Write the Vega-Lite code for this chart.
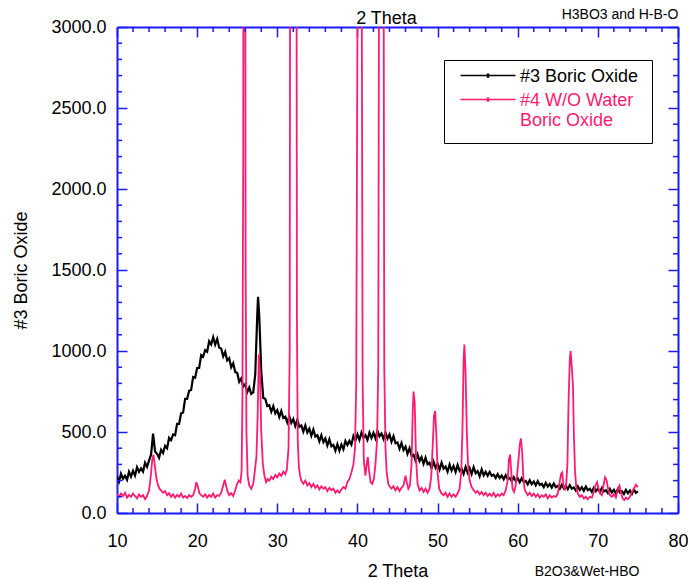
{
  "$schema": "https://vega.github.io/schema/vega-lite/v6.json",
  "width": 561,
  "height": 486,
  "autosize": {"type": "none"},
  "padding": {"left": 117, "top": 27, "right": 10, "bottom": 66},
  "background": "white",
  "config": {"font": "Liberation Sans", "view": {"stroke": null}, "axis": {"grid": false}},
  "datasets": {
    "black": [
      {"x":10,"y":225},{"x":10.25,"y":194},{"x":10.5,"y":243},{"x":10.75,"y":211},{"x":11,"y":230},{"x":11.25,"y":205},{"x":11.5,"y":255},{"x":11.75,"y":225},
      {"x":12,"y":260},{"x":12.25,"y":231},{"x":12.5,"y":283},{"x":12.75,"y":254},{"x":13,"y":275},{"x":13.25,"y":255},{"x":13.5,"y":310},{"x":13.75,"y":285},
      {"x":14,"y":325},{"x":14.25,"y":360},{"x":14.5,"y":490},{"x":14.75,"y":380},{"x":15,"y":365},{"x":15.25,"y":340},{"x":15.5,"y":390},{"x":15.75,"y":370},
      {"x":16,"y":415},{"x":16.25,"y":400},{"x":16.5,"y":465},{"x":16.75,"y":450},{"x":17,"y":485},{"x":17.25,"y":480},{"x":17.5,"y":550},{"x":17.75,"y":550},
      {"x":18,"y":615},{"x":18.25,"y":620},{"x":18.5,"y":705},{"x":18.75,"y":705},{"x":19,"y":755},{"x":19.25,"y":760},{"x":19.5,"y":840},{"x":19.75,"y":835},
      {"x":20,"y":895},{"x":20.25,"y":895},{"x":20.5,"y":975},{"x":20.75,"y":965},{"x":21,"y":1005},{"x":21.25,"y":995},{"x":21.5,"y":1060},{"x":21.75,"y":1040},
      {"x":22,"y":1085},{"x":22.25,"y":1040},{"x":22.5,"y":1075},{"x":22.75,"y":1020},{"x":23,"y":1015},{"x":23.25,"y":967},{"x":23.5,"y":995},{"x":23.75,"y":942},
      {"x":24,"y":955},{"x":24.25,"y":900},{"x":24.5,"y":925},{"x":24.75,"y":870},{"x":25,"y":865},{"x":25.25,"y":810},{"x":25.5,"y":830},{"x":25.75,"y":780},
      {"x":26,"y":795},{"x":26.25,"y":745},{"x":26.5,"y":775},{"x":26.75,"y":735},{"x":27,"y":745},{"x":27.25,"y":855},{"x":27.5,"y":1220},{"x":27.6,"y":1335},{"x":27.75,"y":1215},
      {"x":28,"y":875},{"x":28.25,"y":710},{"x":28.5,"y":705},{"x":28.75,"y":660},{"x":29,"y":665},{"x":29.25,"y":625},{"x":29.5,"y":660},{"x":29.75,"y":615},
      {"x":30,"y":635},{"x":30.25,"y":592},{"x":30.5,"y":630},{"x":30.75,"y":587},{"x":31,"y":595},{"x":31.25,"y":559},{"x":31.5,"y":597},{"x":31.75,"y":556},
      {"x":32,"y":580},{"x":32.25,"y":537},{"x":32.5,"y":575},{"x":32.75,"y":532},{"x":33,"y":540},{"x":33.25,"y":502},{"x":33.5,"y":540},{"x":33.75,"y":497},
      {"x":34,"y":520},{"x":34.25,"y":477},{"x":34.5,"y":515},{"x":34.75,"y":472},{"x":35,"y":480},{"x":35.25,"y":442},{"x":35.5,"y":480},{"x":35.75,"y":437},
      {"x":36,"y":460},{"x":36.25,"y":417},{"x":36.5,"y":455},{"x":36.75,"y":412},{"x":37,"y":420},{"x":37.25,"y":385},{"x":37.5,"y":425},{"x":37.75,"y":385},
      {"x":38,"y":422},{"x":38.25,"y":393},{"x":38.5,"y":445},{"x":38.75,"y":420},{"x":39,"y":445},{"x":39.25,"y":422},{"x":39.5,"y":475},{"x":39.75,"y":447},
      {"x":40,"y":485},{"x":40.25,"y":451},{"x":40.5,"y":497},{"x":40.75,"y":464},{"x":41,"y":480},{"x":41.25,"y":451},{"x":41.5,"y":497},{"x":41.75,"y":464},
      {"x":42,"y":495},{"x":42.25,"y":461},{"x":42.5,"y":507},{"x":42.75,"y":474},{"x":43,"y":490},{"x":43.25,"y":456},{"x":43.5,"y":497},{"x":43.75,"y":459},
      {"x":44,"y":485},{"x":44.25,"y":440},{"x":44.5,"y":475},{"x":44.75,"y":430},{"x":45,"y":435},{"x":45.25,"y":396},{"x":45.5,"y":432},{"x":45.75,"y":389},
      {"x":46,"y":410},{"x":46.25,"y":365},{"x":46.5,"y":400},{"x":46.75,"y":355},{"x":47,"y":360},{"x":47.25,"y":324},{"x":47.5,"y":362},{"x":47.75,"y":321},
      {"x":48,"y":345},{"x":48.25,"y":304},{"x":48.5,"y":342},{"x":48.75,"y":301},{"x":49,"y":310},{"x":49.25,"y":276},{"x":49.5,"y":317},{"x":49.75,"y":279},
      {"x":50,"y":305},{"x":50.25,"y":268},{"x":50.5,"y":311},{"x":50.75,"y":274},{"x":51,"y":287},{"x":51.25,"y":255},{"x":51.5,"y":299},{"x":51.75,"y":262},
      {"x":52,"y":290},{"x":52.25,"y":253},{"x":52.5,"y":297},{"x":52.75,"y":260},{"x":53,"y":273},{"x":53.25,"y":242},{"x":53.5,"y":285},{"x":53.75,"y":249},
      {"x":54,"y":277},{"x":54.25,"y":240},{"x":54.5,"y":283},{"x":54.75,"y":246},{"x":55,"y":258},{"x":55.25,"y":226},{"x":55.5,"y":269},{"x":55.75,"y":232},
      {"x":56,"y":254},{"x":56.25,"y":230},{"x":56.5,"y":254},{"x":56.75,"y":230},{"x":57,"y":236},{"x":57.25,"y":216},{"x":57.5,"y":240},{"x":57.75,"y":216},
      {"x":58,"y":231},{"x":58.25,"y":208},{"x":58.5,"y":233},{"x":58.75,"y":210},{"x":59,"y":216},{"x":59.25,"y":196},{"x":59.5,"y":221},{"x":59.75,"y":198},
      {"x":60,"y":214},{"x":60.25,"y":190},{"x":60.5,"y":215},{"x":60.75,"y":191},{"x":61,"y":198},{"x":61.25,"y":177},{"x":61.5,"y":202},{"x":61.75,"y":178},
      {"x":62,"y":194},{"x":62.25,"y":171},{"x":62.5,"y":196},{"x":62.75,"y":173},{"x":63,"y":180},{"x":63.25,"y":160},{"x":63.5,"y":186},{"x":63.75,"y":163},
      {"x":64,"y":179},{"x":64.25,"y":157},{"x":64.5,"y":182},{"x":64.75,"y":160},{"x":65,"y":168},{"x":65.25,"y":149},{"x":65.5,"y":174},{"x":65.75,"y":152},
      {"x":66,"y":169},{"x":66.25,"y":147},{"x":66.5,"y":172},{"x":66.75,"y":150},{"x":67,"y":158},{"x":67.25,"y":139},{"x":67.5,"y":164},{"x":67.75,"y":142},
      {"x":68,"y":159},{"x":68.25,"y":137},{"x":68.5,"y":163},{"x":68.75,"y":141},{"x":69,"y":149},{"x":69.25,"y":130},{"x":69.5,"y":156},{"x":69.75,"y":134},
      {"x":70,"y":151},{"x":70.25,"y":129},{"x":70.5,"y":155},{"x":70.75,"y":133},{"x":71,"y":141},{"x":71.25,"y":123},{"x":71.5,"y":149},{"x":71.75,"y":127},
      {"x":72,"y":144},{"x":72.25,"y":122},{"x":72.5,"y":149},{"x":72.75,"y":127},{"x":73,"y":135},{"x":73.25,"y":117},{"x":73.5,"y":143},{"x":73.75,"y":122},
      {"x":74,"y":139},{"x":74.25,"y":118},{"x":74.5,"y":145},{"x":74.75,"y":124},{"x":75,"y":133}
    ],
    "pink": [
      {"x":10,"y":115},{"x":10.25,"y":100},{"x":10.5,"y":120},{"x":10.75,"y":105},{"x":11,"y":125},{"x":11.25,"y":95},{"x":11.5,"y":112},{"x":11.75,"y":100},
      {"x":12,"y":120},{"x":12.25,"y":105},{"x":12.5,"y":90},{"x":12.75,"y":115},{"x":13,"y":100},{"x":13.25,"y":110},{"x":13.5,"y":85},{"x":13.75,"y":105},
      {"x":14,"y":140},{"x":14.2,"y":220},{"x":14.4,"y":330},{"x":14.55,"y":360},{"x":14.7,"y":300},{"x":14.9,"y":220},{"x":15.1,"y":175},{"x":15.3,"y":150},
      {"x":15.5,"y":140},{"x":15.75,"y":125},{"x":16,"y":135},{"x":16.25,"y":110},{"x":16.5,"y":122},{"x":16.75,"y":100},{"x":17,"y":115},{"x":17.25,"y":95},
      {"x":17.5,"y":112},{"x":17.75,"y":100},{"x":18,"y":120},{"x":18.25,"y":95},{"x":18.5,"y":105},{"x":18.75,"y":92},{"x":19,"y":110},{"x":19.25,"y":100},
      {"x":19.5,"y":110},{"x":19.75,"y":150},{"x":19.9,"y":190},{"x":20.1,"y":160},{"x":20.3,"y":120},{"x":20.5,"y":110},{"x":20.75,"y":100},{"x":21,"y":115},
      {"x":21.25,"y":95},{"x":21.5,"y":112},{"x":21.75,"y":100},{"x":22,"y":120},{"x":22.25,"y":95},{"x":22.5,"y":110},{"x":22.75,"y":105},{"x":23,"y":125},
      {"x":23.25,"y":170},{"x":23.45,"y":205},{"x":23.65,"y":160},{"x":23.85,"y":125},{"x":24,"y":110},{"x":24.25,"y":122},{"x":24.5,"y":105},{"x":24.75,"y":140},
      {"x":25,"y":180},{"x":25.2,"y":200},{"x":25.4,"y":190},{"x":25.55,"y":260},{"x":25.65,"y":700},{"x":25.75,"y":2200},{"x":25.85,"y":9000},{"x":25.95,"y":6000},
      {"x":26.05,"y":1500},{"x":26.15,"y":500},{"x":26.3,"y":230},{"x":26.5,"y":170},{"x":26.75,"y":150},{"x":27,"y":180},{"x":27.2,"y":260},{"x":27.4,"y":350},
      {"x":27.55,"y":600},{"x":27.7,"y":980},{"x":27.85,"y":850},{"x":28,"y":500},{"x":28.2,"y":300},{"x":28.4,"y":230},{"x":28.6,"y":190},{"x":28.8,"y":210},
      {"x":29,"y":200},{"x":29.25,"y":225},{"x":29.5,"y":210},{"x":29.75,"y":235},{"x":30,"y":220},{"x":30.25,"y":245},{"x":30.5,"y":230},{"x":30.75,"y":255},
      {"x":31,"y":240},{"x":31.2,"y":270},{"x":31.4,"y":400},{"x":31.55,"y":1000},{"x":31.65,"y":6000},{"x":31.75,"y":12000},{"x":32.25,"y":12000},{"x":32.35,"y":6000},
      {"x":32.45,"y":1200},{"x":32.55,"y":450},{"x":32.7,"y":280},{"x":32.85,"y":230},{"x":33,"y":200},{"x":33.25,"y":180},{"x":33.5,"y":200},{"x":33.75,"y":170},
      {"x":34,"y":185},{"x":34.25,"y":160},{"x":34.5,"y":180},{"x":34.75,"y":155},{"x":35,"y":170},{"x":35.25,"y":145},{"x":35.5,"y":165},{"x":35.75,"y":150},
      {"x":36,"y":160},{"x":36.25,"y":135},{"x":36.5,"y":155},{"x":36.75,"y":140},{"x":37,"y":150},{"x":37.25,"y":125},{"x":37.5,"y":140},{"x":37.75,"y":125},
      {"x":38,"y":145},{"x":38.25,"y":160},{"x":38.5,"y":150},{"x":38.75,"y":190},{"x":39,"y":210},{"x":39.25,"y":250},{"x":39.5,"y":300},{"x":39.7,"y":400},
      {"x":39.85,"y":800},{"x":40,"y":3000},{"x":40.1,"y":12000},{"x":40.45,"y":12000},{"x":40.55,"y":3000},{"x":40.65,"y":800},{"x":40.8,"y":320},{"x":41,"y":230},
      {"x":41.15,"y":300},{"x":41.3,"y":345},{"x":41.45,"y":260},{"x":41.65,"y":190},{"x":41.85,"y":180},{"x":42.05,"y":210},{"x":42.25,"y":300},{"x":42.45,"y":450},
      {"x":42.6,"y":900},{"x":42.72,"y":4000},{"x":42.82,"y":12000},{"x":43.15,"y":12000},{"x":43.25,"y":4000},{"x":43.35,"y":900},{"x":43.5,"y":400},{"x":43.65,"y":250},
      {"x":43.85,"y":180},{"x":44,"y":165},{"x":44.25,"y":150},{"x":44.5,"y":165},{"x":44.75,"y":140},{"x":45,"y":160},{"x":45.25,"y":135},{"x":45.5,"y":155},
      {"x":45.75,"y":170},{"x":46,"y":230},{"x":46.15,"y":190},{"x":46.35,"y":150},{"x":46.55,"y":170},{"x":46.75,"y":300},{"x":46.9,"y":620},{"x":47,"y":750},
      {"x":47.15,"y":680},{"x":47.3,"y":350},{"x":47.5,"y":180},{"x":47.75,"y":140},{"x":48,"y":155},{"x":48.25,"y":130},{"x":48.5,"y":150},{"x":48.75,"y":125},
      {"x":49,"y":150},{"x":49.2,"y":220},{"x":49.4,"y":420},{"x":49.55,"y":600},{"x":49.7,"y":630},{"x":49.85,"y":480},{"x":50,"y":250},{"x":50.2,"y":150},
      {"x":50.5,"y":120},{"x":50.75,"y":110},{"x":51,"y":125},{"x":51.25,"y":100},{"x":51.5,"y":120},{"x":51.75,"y":100},{"x":52,"y":115},{"x":52.25,"y":100},
      {"x":52.5,"y":120},{"x":52.75,"y":150},{"x":52.95,"y":250},{"x":53.1,"y":500},{"x":53.25,"y":950},{"x":53.35,"y":1040},{"x":53.5,"y":850},{"x":53.65,"y":500},
      {"x":53.8,"y":300},{"x":54,"y":200},{"x":54.25,"y":160},{"x":54.5,"y":140},{"x":54.75,"y":125},{"x":55,"y":135},{"x":55.25,"y":115},{"x":55.5,"y":130},
      {"x":55.75,"y":110},{"x":56,"y":125},{"x":56.25,"y":105},{"x":56.5,"y":120},{"x":56.75,"y":105},{"x":57,"y":125},{"x":57.25,"y":100},{"x":57.5,"y":115},
      {"x":57.75,"y":105},{"x":58,"y":120},{"x":58.25,"y":110},{"x":58.5,"y":140},{"x":58.75,"y":200},{"x":58.9,"y":330},{"x":59.05,"y":360},{"x":59.2,"y":250},
      {"x":59.35,"y":150},{"x":59.55,"y":130},{"x":59.75,"y":170},{"x":59.95,"y":250},{"x":60.1,"y":330},{"x":60.25,"y":420},{"x":60.4,"y":460},{"x":60.55,"y":380},
      {"x":60.7,"y":220},{"x":60.85,"y":150},{"x":61,"y":130},{"x":61.25,"y":110},{"x":61.5,"y":125},{"x":61.75,"y":105},{"x":62,"y":120},{"x":62.25,"y":100},
      {"x":62.5,"y":115},{"x":62.75,"y":95},{"x":63,"y":110},{"x":63.25,"y":100},{"x":63.5,"y":115},{"x":63.75,"y":90},{"x":64,"y":110},{"x":64.25,"y":95},
      {"x":64.5,"y":105},{"x":64.75,"y":100},{"x":65,"y":120},{"x":65.2,"y":180},{"x":65.4,"y":240},{"x":65.55,"y":250},{"x":65.7,"y":170},{"x":65.9,"y":140},
      {"x":66.05,"y":180},{"x":66.2,"y":300},{"x":66.35,"y":700},{"x":66.5,"y":950},{"x":66.6,"y":1000},{"x":66.75,"y":900},{"x":66.9,"y":780},{"x":67,"y":500},
      {"x":67.15,"y":260},{"x":67.3,"y":160},{"x":67.5,"y":120},{"x":67.75,"y":100},{"x":68,"y":110},{"x":68.25,"y":90},{"x":68.5,"y":100},{"x":68.75,"y":85},
      {"x":69,"y":100},{"x":69.25,"y":95},{"x":69.5,"y":130},{"x":69.7,"y":170},{"x":69.9,"y":190},{"x":70.1,"y":150},{"x":70.3,"y":120},{"x":70.5,"y":110},
      {"x":70.7,"y":170},{"x":70.9,"y":220},{"x":71.1,"y":200},{"x":71.3,"y":140},{"x":71.5,"y":110},{"x":71.75,"y":100},{"x":72,"y":115},{"x":72.25,"y":95},
      {"x":72.5,"y":150},{"x":72.7,"y":170},{"x":72.9,"y":120},{"x":73.1,"y":90},{"x":73.3,"y":80},{"x":73.5,"y":95},{"x":73.75,"y":85},{"x":74,"y":100},
      {"x":74.25,"y":130},{"x":74.5,"y":150},{"x":74.75,"y":175},{"x":75,"y":160}
    ],
    "notes": [
      {"label": "H3BO3 and H-B-O", "x": 72.77, "y": 3074},
      {"label": "B2O3&Wet-HBO", "x": 68.65, "y": -364}
    ],
    "xt": [
      {"v":10,"major":true},{"v":12,"major":false},{"v":14,"major":false},{"v":16,"major":false},{"v":18,"major":false},
      {"v":20,"major":true},{"v":22,"major":false},{"v":24,"major":false},{"v":26,"major":false},{"v":28,"major":false},
      {"v":30,"major":true},{"v":32,"major":false},{"v":34,"major":false},{"v":36,"major":false},{"v":38,"major":false},
      {"v":40,"major":true},{"v":42,"major":false},{"v":44,"major":false},{"v":46,"major":false},{"v":48,"major":false},
      {"v":50,"major":true},{"v":52,"major":false},{"v":54,"major":false},{"v":56,"major":false},{"v":58,"major":false},
      {"v":60,"major":true},{"v":62,"major":false},{"v":64,"major":false},{"v":66,"major":false},{"v":68,"major":false},
      {"v":70,"major":true},{"v":72,"major":false},{"v":74,"major":false},{"v":76,"major":false},{"v":78,"major":false},
      {"v":80,"major":true}
    ],
    "yt": [
      {"v":0,"major":true},{"v":100,"major":false},{"v":200,"major":false},{"v":300,"major":false},{"v":400,"major":false},
      {"v":500,"major":true},{"v":600,"major":false},{"v":700,"major":false},{"v":800,"major":false},{"v":900,"major":false},
      {"v":1000,"major":true},{"v":1100,"major":false},{"v":1200,"major":false},{"v":1300,"major":false},{"v":1400,"major":false},
      {"v":1500,"major":true},{"v":1600,"major":false},{"v":1700,"major":false},{"v":1800,"major":false},{"v":1900,"major":false},
      {"v":2000,"major":true},{"v":2100,"major":false},{"v":2200,"major":false},{"v":2300,"major":false},{"v":2400,"major":false},
      {"v":2500,"major":true},{"v":2600,"major":false},{"v":2700,"major":false},{"v":2800,"major":false},{"v":2900,"major":false},
      {"v":3000,"major":true}
    ]
  },
  "layer": [
    {
      "data": {"name": "black"},
      "mark": {"type": "line", "strokeWidth": 2.2, "clip": true},
      "encoding": {
        "x": {
          "field": "x", "type": "quantitative",
          "scale": {"domain": [10, 80], "nice": false, "zero": false},
          "axis": {
            "orient": "bottom",
            "values": [10,20,30,40,50,60,70,80],
            "labelFlush": false,
            "domainColor": "#1a1aff", "domainWidth": 2,
            "tickColor": "#1a1aff", "tickWidth": 1.5, "tickSize": -10,
            "labelFontSize": 18, "labelColor": "black", "labelPadding": 29,
            "title": "2 Theta", "titleFontSize": 18, "titleFontWeight": "normal", "titleColor": "black", "titlePadding": 12
          }
        },
        "y": {
          "field": "y", "type": "quantitative",
          "scale": {"domain": [0, 3000], "nice": false, "zero": true},
          "axis": {
            "orient": "left",
            "values": [0,500,1000,1500,2000,2500,3000],
            "format": ".1f",
            "domainColor": "#1a1aff", "domainWidth": 2,
            "tickColor": "#1a1aff", "tickWidth": 1.5, "tickSize": -10,
            "labelFontSize": 18, "labelColor": "black", "labelPadding": 21,
            "title": "#3 Boric Oxide", "titleFontSize": 18, "titleFontWeight": "normal", "titleColor": "black", "titlePadding": 20
          }
        },
        "color": {
          "datum": "#3 Boric Oxide",
          "scale": {"domain": ["#3 Boric Oxide", "#4 W/O Water Boric Oxide"], "range": ["#000000", "#ff1a72"]},
          "legend": {
            "orient": "none", "legendX": 327, "legendY": 33,
            "title": null,
            "strokeColor": "black", "fillColor": "white", "padding": 13,
            "symbolType": "M-1,-1.18H9M3.9,-1.43H4.1V-0.93H3.9Z", "symbolSize": 121, "symbolStrokeWidth": 1.5,
            "labelFontSize": 18, "labelOffset": 45, "labelLimit": 400, "rowPadding": 6,
            "labelBaseline": "alphabetic",
            "labelColor": {"expr": "datum.value === '#3 Boric Oxide' ? '#000000' : '#ff1a72'"},
            "labelExpr": "datum.value === '#3 Boric Oxide' ? datum.label : ['#4 W/O Water', 'Boric Oxide']"
          }
        }
      }
    },
    {
      "data": {"name": "pink"},
      "mark": {"type": "line", "strokeWidth": 1.8, "clip": true},
      "encoding": {
        "x": {
          "field": "x", "type": "quantitative",
          "axis": {
            "orient": "top",
            "values": [10,20,30,40,50,60,70,80],
            "labels": false,
            "domainColor": "#1a1aff", "domainWidth": 2,
            "tickColor": "#1a1aff", "tickWidth": 1.5, "tickSize": -10,
            "title": "2 Theta", "titleFontSize": 18, "titleFontWeight": "normal", "titleColor": "black",
            "titlePadding": 3, "titleBaseline": "alphabetic", "titleX": 269
          }
        },
        "y": {
          "field": "y", "type": "quantitative",
          "axis": {
            "orient": "right",
            "values": [0,500,1000,1500,2000,2500,3000],
            "labels": false, "title": null,
            "domainColor": "#1a1aff", "domainWidth": 2,
            "tickColor": "#1a1aff", "tickWidth": 1.5, "tickSize": -10
          }
        },
        "color": {"datum": "#4 W/O Water Boric Oxide"}
      }
    },
    {
      "data": {"name": "notes"},
      "mark": {"type": "text", "fontSize": 14, "color": "black", "align": "center", "baseline": "middle"},
      "encoding": {
        "x": {"field": "x", "type": "quantitative", "axis": null},
        "y": {"field": "y", "type": "quantitative", "axis": null},
        "text": {"field": "label"}
      }
    },
    {
      "data": {"name": "xt"},
      "transform": [{"filter": "!datum.major"}],
      "mark": {"type": "rule", "color": "#1a1aff", "strokeWidth": 1.5},
      "encoding": {
        "x": {"field": "v", "type": "quantitative", "axis": null},
        "y": {"datum": 0, "type": "quantitative", "axis": null},
        "y2": {"datum": 30.9}
      }
    },
    {
      "data": {"name": "xt"},
      "transform": [{"filter": "!datum.major"}],
      "mark": {"type": "rule", "color": "#1a1aff", "strokeWidth": 1.5},
      "encoding": {
        "x": {"field": "v", "type": "quantitative", "axis": null},
        "y": {"datum": 3000, "type": "quantitative", "axis": null},
        "y2": {"datum": 2969.1}
      }
    },
    {
      "data": {"name": "yt"},
      "transform": [{"filter": "!datum.major"}],
      "mark": {"type": "rule", "color": "#1a1aff", "strokeWidth": 1.5},
      "encoding": {
        "y": {"field": "v", "type": "quantitative", "axis": null},
        "x": {"datum": 10, "type": "quantitative", "axis": null},
        "x2": {"datum": 10.624}
      }
    },
    {
      "data": {"name": "yt"},
      "transform": [{"filter": "!datum.major"}],
      "mark": {"type": "rule", "color": "#1a1aff", "strokeWidth": 1.5},
      "encoding": {
        "y": {"field": "v", "type": "quantitative", "axis": null},
        "x": {"datum": 80, "type": "quantitative", "axis": null},
        "x2": {"datum": 79.376}
      }
    }
  ],
  "resolve": {"axis": {"x": "independent", "y": "independent"}}
}
